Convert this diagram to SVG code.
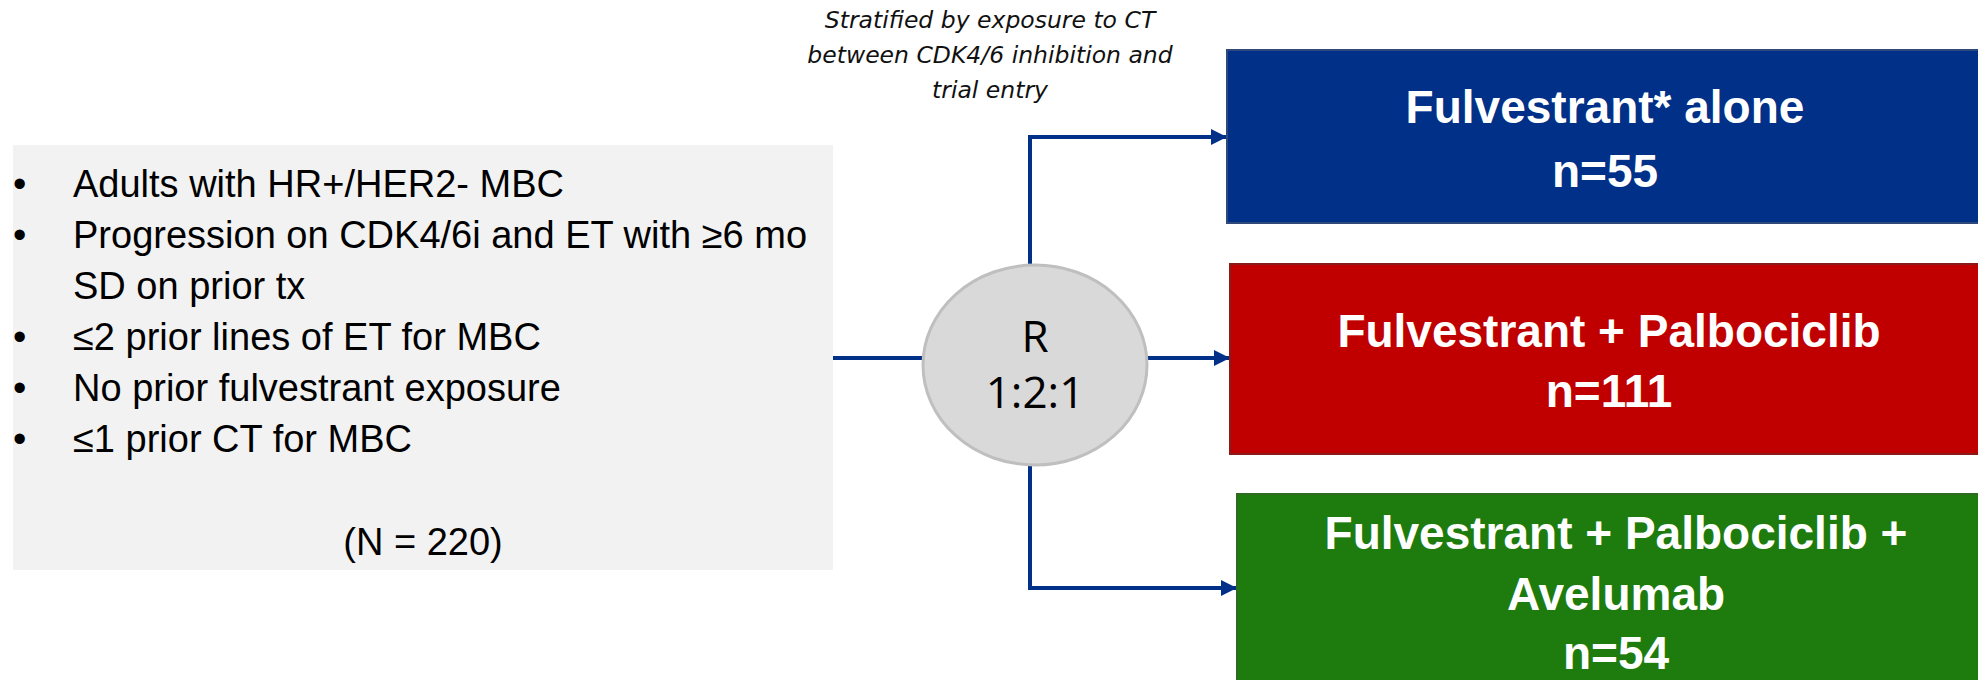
<svg xmlns="http://www.w3.org/2000/svg" width="1978" height="680" viewBox="0 0 1978 680">
<defs>
<style>
.bul{font-family:"Liberation Sans",Arial,sans-serif;font-size:38px;fill:#000}
.arm{font-family:"Liberation Sans",Arial,sans-serif;font-size:46px;font-weight:bold;fill:#fff;text-anchor:middle}
.note{font-family:"DejaVu Sans",Verdana,sans-serif;font-style:italic;font-size:23.5px;fill:#111;text-anchor:middle}
.rand{font-family:"Open Sans",sans-serif;font-size:44px;fill:#000;text-anchor:middle}
.conn{fill:none;stroke:#003087;stroke-width:4}
</style>
<marker id="ah" viewBox="0 0 10 10" refX="10" refY="5" markerWidth="4.2" markerHeight="4" orient="auto" markerUnits="strokeWidth">
<path d="M0,0 L10,5 L0,10 z" fill="#003087"/>
</marker>
</defs>
<rect width="1978" height="680" fill="#fff"/>
<g id="connectors">
<path class="conn" d="M833,358 H924"/>
<path class="conn" d="M1030,265 V137 H1227" marker-end="url(#ah)"/>
<path class="conn" d="M1146,358 H1230" marker-end="url(#ah)"/>
<path class="conn" d="M1030,465 V588 H1237" marker-end="url(#ah)"/>
</g>
<g id="eligibility">
<rect x="13" y="145" width="820" height="425" fill="#F2F2F2"/>
<text class="bul" x="13" y="197">•</text><text class="bul" x="73" y="197">Adults with HR+/HER2- MBC</text>
<text class="bul" x="13" y="248">•</text><text class="bul" x="73" y="248">Progression on CDK4/6i and ET with ≥6 mo</text>
<text class="bul" x="73" y="299">SD on prior tx</text>
<text class="bul" x="13" y="350">•</text><text class="bul" x="73" y="350">≤2 prior lines of ET for MBC</text>
<text class="bul" x="13" y="401">•</text><text class="bul" x="73" y="401">No prior fulvestrant exposure</text>
<text class="bul" x="13" y="452">•</text><text class="bul" x="73" y="452">≤1 prior CT for MBC</text>
<text class="bul" x="423" y="555" text-anchor="middle">(N = 220)</text>
</g>
<g id="stratification">
<text class="note" x="990" y="28">Stratified by exposure to CT</text>
<text class="note" x="990" y="63">between CDK4/6 inhibition and</text>
<text class="note" x="990" y="98">trial entry</text>
</g>
<g id="randomization">
<ellipse cx="1035" cy="365" rx="112" ry="100" fill="#D9D9D9" stroke="#BFBFBF" stroke-width="3"/>
<text class="rand" x="1035" y="352">R</text>
<text class="rand" x="1035" y="408">1:2:1</text>
</g>
<g id="arm-fulvestrant">
<rect x="1227" y="50" width="760" height="173" fill="#003087" stroke="#2F4A7A" stroke-width="2"/>
<text class="arm" x="1605" y="123">Fulvestrant* alone</text>
<text class="arm" x="1605" y="187">n=55</text>
</g>
<g id="arm-palbociclib">
<rect x="1230" y="264" width="760" height="190" fill="#C00000" stroke="#8B1A1A" stroke-width="2"/>
<text class="arm" x="1609" y="347">Fulvestrant + Palbociclib</text>
<text class="arm" x="1609" y="407">n=111</text>
</g>
<g id="arm-avelumab">
<rect x="1237" y="494" width="760" height="200" fill="#1E7B0E" stroke="#2E6B20" stroke-width="2"/>
<text class="arm" x="1616" y="549">Fulvestrant + Palbociclib +</text>
<text class="arm" x="1616" y="610">Avelumab</text>
<text class="arm" x="1616" y="669">n=54</text>
</g>
</svg>
